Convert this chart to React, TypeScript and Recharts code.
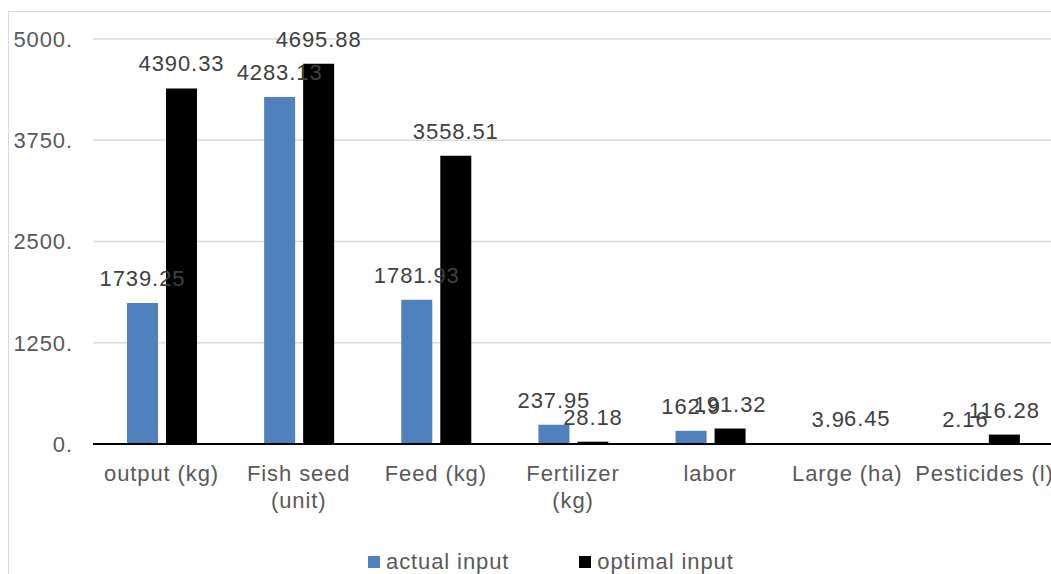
import React from 'react';
import { BarChart, Bar, XAxis, YAxis, CartesianGrid, Legend, LabelList } from 'recharts';

const categories = [
  'output (kg)',
  'Fish seed\n(unit)',
  'Feed (kg)',
  'Fertilizer\n(kg)',
  'labor',
  'Large (ha)',
  'Pesticides (l)',
];
const actualInput = [1739.25, 4283.13, 1781.93, 237.95, 162.9, 3.9, 2.16];
const optimalInput = [4390.33, 4695.88, 3558.51, 28.18, 191.32, 6.45, 116.28];
const yTicks = [0, 1250, 2500, 3750, 5000];

const seriesNames = { actual: 'actual input', optimal: 'optimal input' };
const colors = { actual: '#4f81bd', optimal: '#000000' };

const data = categories.map((name, i) => ({
  name,
  actual: actualInput[i],
  optimal: optimalInput[i],
}));

const FONT = '"Liberation Sans", Arial, sans-serif';
const SPACING = 0.9;

const CategoryTick = (props: any) => {
  const { x, y, payload } = props;
  const lines = String(payload.value).split('\n');
  return (
    <text x={x} y={y + 29} textAnchor="middle" fill="#595959" fontSize={22} fontFamily={FONT} letterSpacing={SPACING}>
      {lines.map((line, i) => (
        <tspan key={i} x={x} dy={i === 0 ? 0 : 27}>
          {line}
        </tspan>
      ))}
    </text>
  );
};

const LegendContent = () => (
  <div
    style={{
      display: 'flex',
      gap: 70,
      fontFamily: FONT,
      fontSize: 22,
      letterSpacing: SPACING,
      color: '#595959',
      lineHeight: '24px',
    }}
  >
    {(['actual', 'optimal'] as const).map((key) => (
      <span key={key} style={{ display: 'flex', alignItems: 'center', whiteSpace: 'nowrap' }}>
        <span style={{ width: 12, height: 12, background: colors[key], marginRight: 6, display: 'inline-block' }} />
        {seriesNames[key]}
      </span>
    ))}
  </div>
);

export default function App() {
  return (
    <div style={{ position: 'fixed', left: 0, top: 0, width: 1051, height: 574, overflow: 'hidden', background: '#fff' }}>
      <div style={{ position: 'absolute', left: 8, top: 11, width: 1100, height: 600, border: '1px solid #d9d9d9' }}>
        <BarChart
          width={1100}
          height={600}
          data={data}
          margin={{ top: 27, right: 56, bottom: 78, left: 4 }}
          barSize={31}
          barGap={8}
        >
          <CartesianGrid vertical={false} stroke="#d9d9d9" strokeWidth={1.5} />
          <XAxis
            dataKey="name"
            interval={0}
            height={90}
            tickLine={false}
            axisLine={{ stroke: '#000', strokeWidth: 2 }}
            tick={<CategoryTick />}
          />
          <YAxis
            width={80}
            domain={[0, 5000]}
            ticks={yTicks}
            axisLine={false}
            tickLine={false}
            tickMargin={14}
            tickFormatter={(v) => `${v}.`}
            tick={{ fill: '#595959', fontSize: 22, fontFamily: FONT, letterSpacing: SPACING }}
          />
          <Legend
            layout="horizontal"
            verticalAlign="middle"
            align="center"
            content={<LegendContent />}
            wrapperStyle={{ top: 538, left: 359, width: 'auto' }}
          />
          <Bar dataKey="actual" name={seriesNames.actual} fill={colors.actual} isAnimationActive={false}>
            <LabelList
              dataKey="actual"
              position="top"
              offset={17}
              fill="#404040"
              fontSize={22}
              fontFamily={FONT}
              letterSpacing={SPACING}
            />
          </Bar>
          <Bar dataKey="optimal" name={seriesNames.optimal} fill={colors.optimal} isAnimationActive={false}>
            <LabelList
              dataKey="optimal"
              position="top"
              offset={17}
              fill="#404040"
              fontSize={22}
              fontFamily={FONT}
              letterSpacing={SPACING}
            />
          </Bar>
        </BarChart>
      </div>
    </div>
  );
}
